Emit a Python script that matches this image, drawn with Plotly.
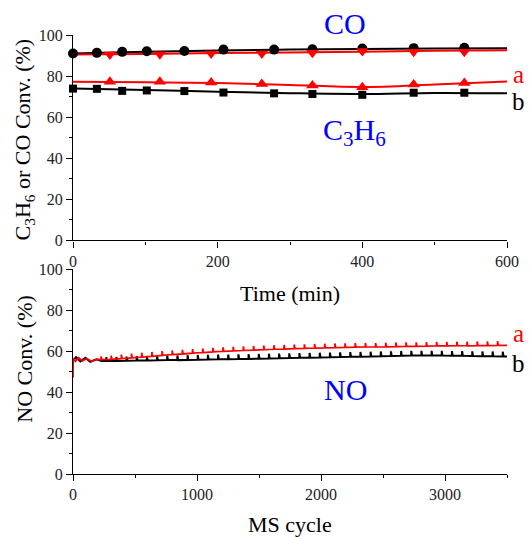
import plotly.graph_objects as go

# ---------------- Top panel: C3H6 / CO conversion vs time ----------------
# markers
co_b_t = [0, 33, 68, 102, 154, 208, 278, 331, 400, 471, 541]
co_b_v = [91.0, 91.3, 91.8, 92.1, 92.2, 92.9, 92.9, 93.1, 93.4, 93.6, 93.8]
co_a_t = [51, 120, 191, 261, 331, 400, 471, 541]
co_a_v = [90.5, 90.6, 91.0, 91.0, 91.4, 92.2, 91.9, 91.9]
hc_a_t = [51, 120, 191, 261, 331, 400, 471, 541]
hc_a_v = [77.2, 77.2, 76.9, 76.1, 75.4, 74.6, 75.9, 76.6]
hc_b_t = [0, 33, 68, 102, 154, 208, 278, 331, 400, 471, 541]
hc_b_v = [73.9, 73.8, 72.8, 73.0, 72.7, 72.0, 71.6, 71.3, 70.9, 71.9, 71.9]

# smoothed curves through each series
fit_t = [0, 100, 200, 300, 400, 500, 600]
co_b_fit = [91.0, 91.8, 92.5, 92.9, 93.2, 93.4, 93.5]
co_a_fit = [90.5, 90.8, 91.2, 91.5, 91.9, 92.3, 92.6]
hc_a_fit = [77.2, 77.0, 76.6, 75.7, 74.7, 75.9, 77.4]
hc_b_fit = [74.0, 73.2, 72.4, 71.7, 71.3, 71.8, 71.6]

# ---------------- Bottom panel: NO conversion vs MS cycle ----------------
# start-up section
no_a_start_c = [0, 2, 20, 45, 75, 110, 150, 190]
no_a_start_v = [47.0, 56.5, 55.0, 56.8, 55.2, 56.4, 55.0, 56.0]
no_b_start_c = [0, 25, 60, 100, 140, 190, 230]
no_b_start_v = [55.5, 57.0, 55.0, 56.8, 54.8, 56.0, 55.2]

# periodic spikes: cycle, baseline before spike, spike top
no_a_cyc = [226, 308, 390, 472, 554, 636, 718, 800, 882, 964, 1046, 1128, 1210,
            1292, 1374, 1456, 1538, 1620, 1702, 1784, 1866, 1948, 2030, 2112,
            2194, 2276, 2358, 2440, 2522, 2604, 2686, 2768, 2850, 2932, 3014,
            3096, 3178, 3260, 3342, 3424]
no_a_base = [55.8, 56.0, 56.3, 56.7, 57.1, 57.5, 57.9, 58.3, 58.6, 59.0, 59.3,
             59.6, 59.9, 60.1, 60.3, 60.5, 60.7, 60.9, 61.0, 61.2, 61.3, 61.5,
             61.6, 61.7, 61.8, 61.9, 62.0, 62.0, 62.1, 62.2, 62.3, 62.3, 62.4,
             62.5, 62.5, 62.6, 62.6, 62.7, 62.7, 62.8]
no_a_peak = [57.4, 57.8, 58.3, 58.8, 59.2, 59.6, 60.0, 60.3, 60.6, 61.0, 61.3,
             61.6, 61.9, 62.1, 62.3, 62.5, 62.7, 62.9, 63.0, 63.2, 63.3, 63.5,
             63.6, 63.7, 63.8, 63.9, 64.0, 64.0, 64.1, 64.2, 64.3, 64.3, 64.4,
             64.5, 64.5, 64.6, 64.6, 64.7, 64.7, 64.8]
no_a_end = 62.8

no_b_cyc = [268, 350, 432, 514, 596, 678, 760, 842, 924, 1006, 1088, 1170, 1252,
            1334, 1416, 1498, 1580, 1662, 1744, 1826, 1908, 1990, 2072, 2154,
            2236, 2318, 2400, 2482, 2564, 2646, 2728, 2810, 2892, 2974, 3056,
            3138, 3220, 3302, 3384, 3466]
no_b_base = [55.2, 55.2, 55.3, 55.4, 55.4, 55.5, 55.6, 55.6, 55.7, 55.8, 55.9,
             56.0, 56.0, 56.1, 56.2, 56.3, 56.4, 56.5, 56.6, 56.7, 56.8, 56.9,
             57.0, 57.1, 57.2, 57.3, 57.4, 57.5, 57.6, 57.7, 57.8, 57.8, 57.8,
             57.8, 57.7, 57.7, 57.6, 57.5, 57.5, 57.4]
no_b_peak = [57.0, 57.1, 57.3, 57.5, 57.6, 57.7, 57.8, 57.9, 58.0, 58.1, 58.2,
             58.3, 58.3, 58.4, 58.5, 58.6, 58.7, 58.8, 58.9, 59.0, 59.1, 59.2,
             59.3, 59.4, 59.5, 59.6, 59.7, 59.8, 59.9, 60.0, 60.1, 60.1, 60.1,
             60.1, 60.0, 60.0, 59.9, 59.8, 59.8, 59.7]
no_b_end = 57.4

top_ticks = [0, 200, 400, 600]
bot_ticks = [0, 1000, 2000, 3000]
y_ticks = [0, 20, 40, 60, 80, 100]

BLACK = "#000000"
RED = "#ff0000"
BLUE = "#0000ff"
FONT = "'Liberation Serif', 'Times New Roman', Times, serif"


def spike_path(start_c, start_v, cyc, base, peak, end_v):
    xs, ys = list(start_c), list(start_v)
    for c, b, p in zip(cyc, base, peak):
        xs += [c - 1, c, c + 6]
        ys += [b, p, b]
    xs.append(3500)
    ys.append(end_v)
    return xs, ys


fig = go.Figure()

# top panel lines
for t, v, col in [(fit_t, co_b_fit, BLACK), (fit_t, co_a_fit, RED),
                  (fit_t, hc_a_fit, RED), (fit_t, hc_b_fit, BLACK)]:
    fig.add_trace(go.Scatter(x=t, y=v, mode="lines", line=dict(color=col, width=2, shape="spline"),
                             xaxis="x", yaxis="y", showlegend=False, cliponaxis=False))
# top panel markers
for t, v, col, sym, sz in [(co_b_t, co_b_v, BLACK, "circle", 10),
                           (co_a_t, co_a_v, RED, "triangle-down", 11),
                           (hc_a_t, hc_a_v, RED, "triangle-up", 11),
                           (hc_b_t, hc_b_v, BLACK, "square", 8)]:
    fig.add_trace(go.Scatter(x=t, y=v, mode="markers",
                             marker=dict(color=col, symbol=sym, size=sz, line=dict(width=0)),
                             xaxis="x", yaxis="y", showlegend=False, cliponaxis=False))

# bottom panel traces
bx, by = spike_path(no_b_start_c, no_b_start_v, no_b_cyc, no_b_base, no_b_peak, no_b_end)
ax, ay = spike_path(no_a_start_c, no_a_start_v, no_a_cyc, no_a_base, no_a_peak, no_a_end)
fig.add_trace(go.Scatter(x=bx, y=by, mode="lines", line=dict(color=BLACK, width=2),
                         xaxis="x2", yaxis="y2", showlegend=False))
fig.add_trace(go.Scatter(x=ax, y=ay, mode="lines", line=dict(color=RED, width=1.7),
                         xaxis="x2", yaxis="y2", showlegend=False))

axis_common = dict(showline=True, linecolor=BLACK, linewidth=1.3, mirror=False,
                   ticks="outside", ticklen=6, tickwidth=1.3, tickcolor=BLACK,
                   showgrid=False, zeroline=False,
                   tickfont=dict(family=FONT, size=16, color="#222222"))

fig.update_layout(
    width=531, height=537,
    margin=dict(l=73, r=20, t=35, b=63),
    paper_bgcolor="white", plot_bgcolor="white",
    showlegend=False,
    font=dict(family=FONT),
    xaxis=dict(range=[0, 600], tickvals=top_ticks, anchor="y",
               minor=dict(dtick=100, ticklen=3, tickwidth=1.3, tickcolor=BLACK, ticks="outside"),
               **axis_common),
    yaxis=dict(range=[0, 100], tickvals=y_ticks, domain=[0.532, 1.0], anchor="x",
               minor=dict(dtick=10, ticklen=3, tickwidth=1.3, tickcolor=BLACK, ticks="outside"),
               **axis_common),
    xaxis2=dict(range=[0, 3500], tickvals=bot_ticks, anchor="y2",
                minor=dict(dtick=500, ticklen=3, tickwidth=1.3, tickcolor=BLACK, ticks="outside"),
                **axis_common),
    yaxis2=dict(range=[0, 100], tickvals=y_ticks, domain=[0.0, 0.4666], anchor="x2",
                minor=dict(dtick=10, ticklen=3, tickwidth=1.3, tickcolor=BLACK, ticks="outside"),
                **axis_common),
)

ann = [
    dict(text="CO", x=0.6256, y=1.0258, font=dict(size=30, color=BLUE)),
    dict(text="C<sub>3</sub>H<sub>6</sub>", x=0.6495, y=0.78, font=dict(size=30, color=BLUE)),
    dict(text="a", x=1.027, y=0.91, font=dict(size=25, color=RED)),
    dict(text="b", x=1.027, y=0.848, font=dict(size=25, color=BLACK)),
    dict(text="NO", x=0.627, y=0.1926, font=dict(size=30, color=BLUE)),
    dict(text="a", x=1.027, y=0.32, font=dict(size=25, color=RED)),
    dict(text="b", x=1.027, y=0.252, font=dict(size=25, color=BLACK)),
    dict(text="Time (min)", x=0.5, y=0.412, font=dict(size=22, color=BLACK)),
    dict(text="MS cycle", x=0.5, y=-0.1147, font=dict(size=22, color=BLACK)),
    dict(text="C<sub>3</sub>H<sub>6</sub> or CO Conv. (%)", x=-0.1119, y=0.763,
         textangle=-90, font=dict(size=22, color=BLACK)),
    dict(text="NO Conv. (%)", x=-0.1119, y=0.2637, textangle=-90,
         font=dict(size=22, color=BLACK)),
]
for a in ann:
    a["font"]["family"] = FONT
    fig.add_annotation(xref="paper", yref="paper", showarrow=False,
                       xanchor="center", yanchor="middle", **a)

fig.write_html("out.html")
